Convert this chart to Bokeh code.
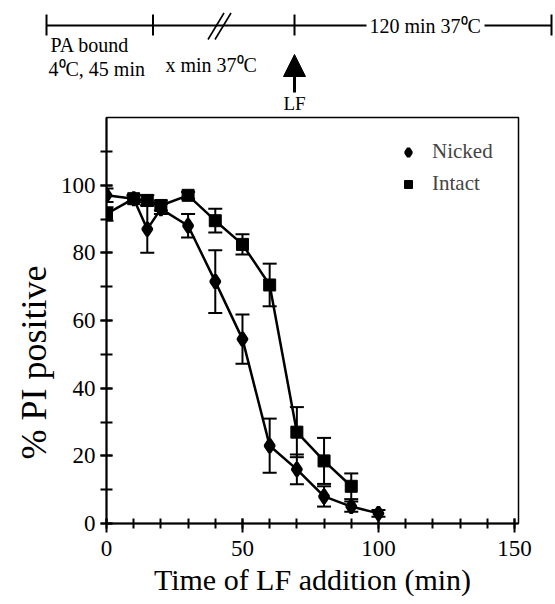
from bokeh.plotting import figure
from bokeh.layouts import column
from bokeh.models import (ColumnDataSource, Whisker, TeeHead, FixedTicker, Legend,
                          LegendItem, Arrow, NormalHead, Range1d, Title)
from bokeh.embed import file_html
from bokeh.resources import INLINE
from bokeh.core.properties import value

# ---------------- data ----------------
minutes = [0, 10, 15, 20, 30, 40, 50, 60, 70, 80, 90, 100]
nicked = [97, 96, 87, 93, 88, 71.5, 54.5, 23, 16, 8, 5, 3]
nicked_err = [2, 1, 7, 1.5, 3.5, 9.3, 7.3, 8, 4.4, 3, 1.5, 1]
intact_minutes = [0, 10, 15, 20, 30, 40, 50, 60, 70, 80, 90]
intact = [91.5, 96, 95.5, 94, 97, 89.5, 82.5, 70.5, 27, 18.5, 11]
intact_err = [2, 1, 1.5, 1.5, 1, 3.5, 3, 6.3, 7.4, 6.8, 3.8]

x_major = [0, 50, 100, 150]
x_minor = list(range(0, 151, 10))
y_major = [0, 20, 40, 60, 80, 100]
y_minor = list(range(0, 111, 10))

FONT = "Liberation Serif"

# ---------------- timeline schematic (drawn in pixel units of its own panel) ----------------
TW, TH = 553, 115
t = figure(width=TW, height=TH, x_range=Range1d(0, TW), y_range=Range1d(TH, 0),
           output_backend="svg", toolbar_location=None, min_border=0)
t.frame_align = False
t.axis.visible = False
t.grid.visible = False
t.outline_line_color = None

line_y = 25
t.segment(x0=[46, 484], y0=[line_y, line_y], x1=[366, 551], y1=[line_y, line_y],
          line_color="black", line_width=2)
bars_x = [46, 152.5, 294, 551]
t.segment(x0=bars_x, y0=[14] * 4, x1=bars_x, y1=[35] * 4, line_color="black", line_width=2)
t.segment(x0=[207.5, 214.5], y0=[39, 39], x1=[223.5, 230.5], y1=[12.5, 12.5],
          line_color="black", line_width=1.6)
t.text(x=[369], y=[line_y], text=["120 min 37\u2070C"], text_font=value(FONT),
       text_font_size="20px", text_baseline="middle", text_align="left", text_color="black")
t.text(x=[50, 48, 165], y=[44, 68, 64],
       text=["PA bound", "4\u2070C, 45 min", "x min 37\u2070C"], text_font=value(FONT),
       text_font_size="20px", text_baseline="middle", text_align="left", text_color="black")
t.add_layout(Arrow(end=NormalHead(size=22, fill_color="black", line_color="black"),
                   x_start=294, y_start=92, x_end=294, y_end=54,
                   line_width=3, line_color="black"))
t.text(x=[294], y=[103], text=["LF"], text_font=value(FONT), text_font_size="19px",
       text_baseline="middle", text_align="center", text_color="black")

# ---------------- main plot ----------------
p = figure(width=553, height=485, x_range=Range1d(0, 151.5), y_range=Range1d(0, 120),
           output_backend="svg", toolbar_location=None,
           min_border_left=106, min_border_right=35, min_border_top=2, min_border_bottom=77)
p.frame_align = False
p.grid.visible = False
p.outline_line_color = "black"
p.outline_line_width = 1.5
p.outline_line_alpha = 1.0

src_n = ColumnDataSource(dict(x=minutes, y=nicked,
                              lo=[a - b for a, b in zip(nicked, nicked_err)],
                              hi=[a + b for a, b in zip(nicked, nicked_err)]))
src_i = ColumnDataSource(dict(x=intact_minutes, y=intact,
                              lo=[a - b for a, b in zip(intact, intact_err)],
                              hi=[a + b for a, b in zip(intact, intact_err)]))

for src in (src_n, src_i):
    w = Whisker(source=src, base="x", lower="lo", upper="hi", dimension="height",
                line_color="black", line_width=2,
                upper_head=TeeHead(size=14, line_width=2, line_color="black"),
                lower_head=TeeHead(size=14, line_width=2, line_color="black"))
    p.add_layout(w)

p.line("x", "y", source=src_n, line_color="black", line_width=2.5)
p.line("x", "y", source=src_i, line_color="black", line_width=2.5)
r_n = p.scatter("x", "y", source=src_n, marker="diamond", size=13, line_width=3.5,
                line_join="bevel", fill_color="black", line_color="black")
r_i = p.scatter("x", "y", source=src_i, marker="square", size=12,
                fill_color="black", line_color="black")

legend = Legend(items=[LegendItem(label="Nicked", renderers=[r_n]),
                       LegendItem(label="Intact", renderers=[r_i])],
                location=(292, 327), border_line_color=None, background_fill_alpha=0,
                label_text_font=FONT, label_text_font_size="21px", label_standoff=14,
                glyph_width=20, glyph_height=22, label_height=22, spacing=7,
                padding=0, margin=0)
p.add_layout(legend)

p.xaxis.ticker = FixedTicker(ticks=x_major, minor_ticks=x_minor)
p.yaxis.ticker = FixedTicker(ticks=y_major, minor_ticks=y_minor)

for ax in (p.xaxis[0], p.yaxis[0]):
    ax.axis_line_width = 2
    ax.axis_line_color = "black"
    ax.major_tick_line_width = 2
    ax.minor_tick_line_width = 2
    ax.major_tick_line_color = "black"
    ax.minor_tick_line_color = "black"
    ax.major_label_text_font = FONT
    ax.major_label_text_font_size = "23px"
    ax.major_label_text_color = "black"
    ax.axis_label_text_font = FONT
    ax.axis_label_text_font_style = "normal"
    ax.axis_label_text_color = "black"

p.xaxis.major_tick_in = 5
p.xaxis.major_tick_out = 9
p.xaxis.minor_tick_in = 5
p.xaxis.minor_tick_out = 5
p.xaxis.major_label_standoff = 8
p.xaxis.axis_label = "Time of LF addition (min)"
p.xaxis.axis_label_text_font_size = "30px"
p.xaxis.axis_label_standoff = 4

p.yaxis.major_tick_in = 6
p.yaxis.major_tick_out = 6
p.yaxis.minor_tick_in = 6
p.yaxis.minor_tick_out = 6
p.yaxis.major_label_standoff = 5

# y-axis title as a side title, starting a little above the frame bottom as in the original
p.add_layout(Title(text="% PI positive", align="left", offset=64, standoff=7,
                   text_font=FONT, text_font_size="36px", text_font_style="normal",
                   text_color="black"), "left")

layout = column(t, p, spacing=0)
open("out.html", "w").write(file_html(layout, INLINE))
